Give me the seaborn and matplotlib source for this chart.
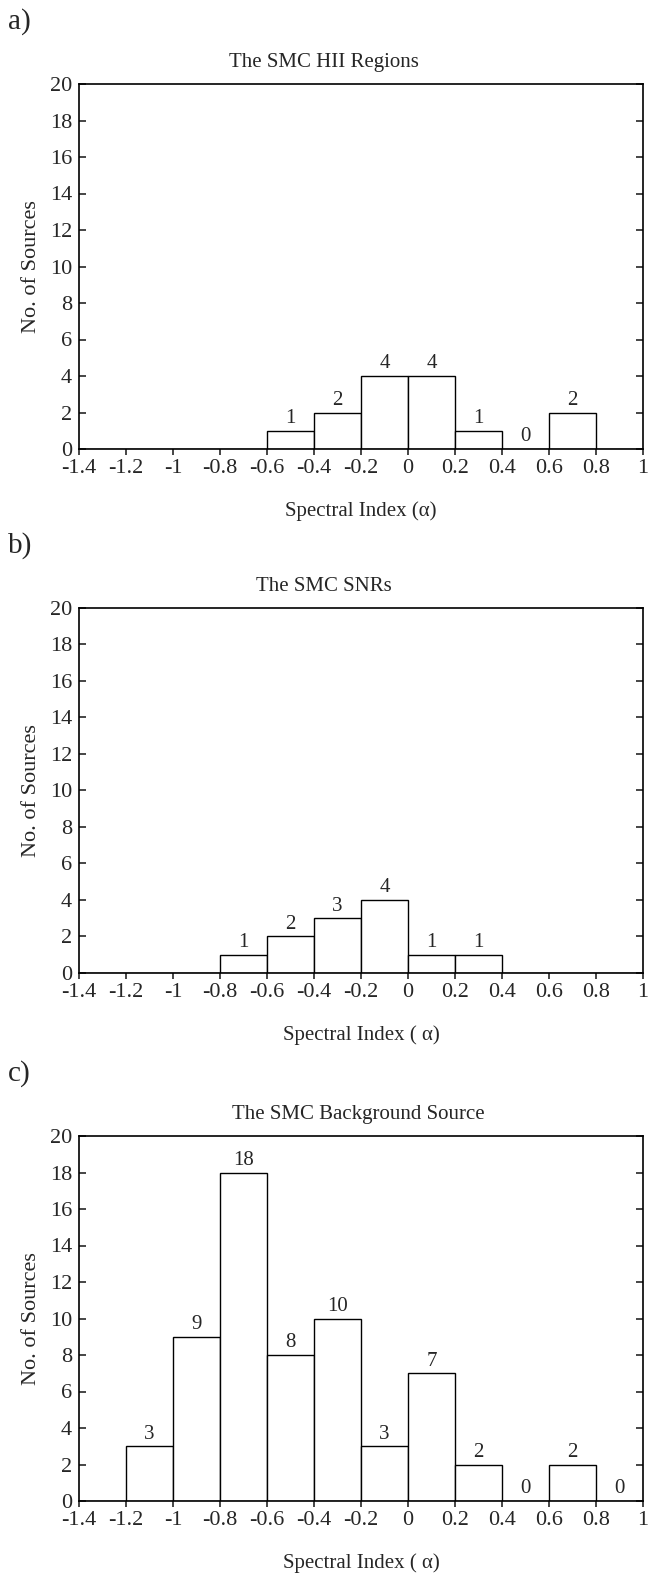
import numpy as np
import matplotlib
matplotlib.use("Agg")
import matplotlib.pyplot as plt
import seaborn as sns

# Data
bin_edges = [-1.4, -1.2, -1.0, -0.8, -0.6, -0.4, -0.2, 0.0, 0.2, 0.4, 0.6, 0.8, 1.0]
bin_centers = [-1.3, -1.1, -0.9, -0.7, -0.5, -0.3, -0.1, 0.1, 0.3, 0.5, 0.7, 0.9]

hii_counts = [0, 0, 0, 0, 1, 2, 4, 4, 1, 0, 2, 0]
hii_labeled = [False, False, False, False, True, True, True, True, True, True, True, False]

snr_counts = [0, 0, 0, 1, 2, 3, 4, 1, 1, 0, 0, 0]
snr_labeled = [False, False, False, True, True, True, True, True, True, False, False, False]

bkg_counts = [0, 3, 9, 18, 8, 10, 3, 7, 2, 0, 2, 0]
bkg_labeled = [False, True, True, True, True, True, True, True, True, True, True, True]

xtick_vals = [-1.4, -1.2, -1.0, -0.8, -0.6, -0.4, -0.2, 0.0, 0.2, 0.4, 0.6, 0.8, 1.0]
xtick_labels = ["-1.4", "-1.2", "-1", "-0.8", "-0.6", "-0.4", "-0.2", "0", "0.2", "0.4", "0.6", "0.8", "1"]
ytick_vals = [0, 2, 4, 6, 8, 10, 12, 14, 16, 18, 20]

titles = ["The SMC HII Regions", "The SMC SNRs", "The SMC Background Source"]
title_x = [0.434, 0.434, 0.496]
xlabels = ["Spectral Index (\u03b1)", "Spectral Index ( \u03b1)", "Spectral Index ( \u03b1)"]
panel_tags = ["a)", "b)", "c)"]

sns.set_style("white")
plt.rcParams["font.family"] = ["Liberation Serif", "DejaVu Serif"]

W, H = 662, 1580
fig = plt.figure(figsize=(W / 100, H / 100), dpi=100)

ax_left_px, ax_right_px = 79, 643
ax_bottoms_px = [449, 973, 1501]
ax_height_px = 365

datasets = [(hii_counts, hii_labeled), (snr_counts, snr_labeled), (bkg_counts, bkg_labeled)]

for i, (counts, labeled) in enumerate(datasets):
    b = ax_bottoms_px[i]
    ax = fig.add_axes([ax_left_px / W, 1 - b / H, (ax_right_px - ax_left_px) / W, ax_height_px / H])
    sns.histplot(x=bin_centers, weights=counts, bins=bin_edges, ax=ax,
                 color="white", edgecolor="black", linewidth=1.0, alpha=1.0)
    for c, n, lab in zip(bin_centers, counts, labeled):
        if lab:
            ax.text(c, n + 0.15, str(n), ha="center", va="bottom", fontsize=15)
    ax.set_xlim(-1.4, 1.0)
    ax.set_ylim(0, 20)
    ax.set_xticks(xtick_vals)
    ax.set_xticklabels(xtick_labels)
    ax.set_yticks(ytick_vals)
    ax.tick_params(axis="y", direction="in", length=5, width=1.2, left=True, right=True,
                   labelsize=16, pad=5)
    ax.tick_params(axis="x", direction="out", length=4, width=1.2, bottom=True, top=False,
                   labelsize=16, pad=3)
    for s in ax.spines.values():
        s.set_color("black")
        s.set_linewidth(1.2)
    ax.set_ylabel("No. of Sources", fontsize=16, labelpad=6)
    ax.set_xlabel(xlabels[i], fontsize=15, labelpad=17)
    ax.set_title(titles[i], fontsize=15, pad=12, x=title_x[i])
    top_px = b - ax_height_px
    fig.text(0.012, 1 - (top_px - 62) / H, panel_tags[i], fontsize=21, ha="left", va="center")

fig.savefig("out.png", dpi=100)
